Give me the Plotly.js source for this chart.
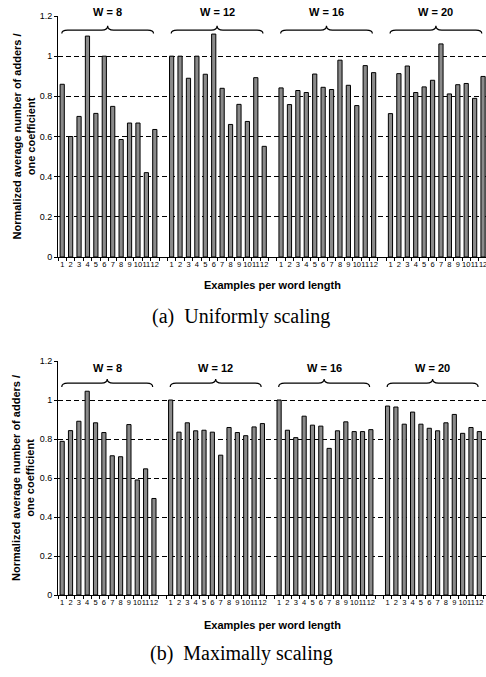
<!DOCTYPE html>
<html><head><meta charset="utf-8">
<script src="https://cdn.plot.ly/plotly-3.0.1.min.js"></script>
<style>html,body{margin:0;padding:0;background:#fff}#chart{width:486px;height:677px}</style>
</head><body><div id="chart"></div>
<script>
// ---------- data ----------
const wordLengths = [8, 12, 16, 20];
const exampleLabels = ['1','2','3','4','5','6','7','8','9','10','11','12'];
const uniformW8  = [0.86, 0.60, 0.70, 1.10, 0.715, 1.00, 0.75, 0.585, 0.667, 0.667, 0.42, 0.635];
const uniformW12 = [1.00, 1.00, 0.89, 1.00, 0.91, 1.11, 0.84, 0.66, 0.76, 0.675, 0.893, 0.551];
const uniformW16 = [0.842, 0.759, 0.829, 0.819, 0.911, 0.845, 0.834, 0.98, 0.855, 0.754, 0.953, 0.918];
const uniformW20 = [0.714, 0.913, 0.951, 0.819, 0.847, 0.88, 1.061, 0.812, 0.858, 0.864, 0.79, 0.899];
const maximalW8  = [0.788, 0.843, 0.891, 1.045, 0.883, 0.833, 0.714, 0.709, 0.874, 0.59, 0.647, 0.495];
const maximalW12 = [1.00, 0.835, 0.883, 0.842, 0.845, 0.835, 0.717, 0.859, 0.833, 0.817, 0.862, 0.879];
const maximalW16 = [1.00, 0.845, 0.807, 0.917, 0.871, 0.866, 0.752, 0.842, 0.888, 0.838, 0.838, 0.848];
const maximalW20 = [0.969, 0.964, 0.876, 0.938, 0.876, 0.855, 0.842, 0.883, 0.926, 0.829, 0.859, 0.838];
const yTickVals = [0, 0.2, 0.4, 0.6, 0.8, 1, 1.2];
const yTitle = 'Normalized average number of adders /<br>one coefficient';
const xTitle = 'Examples per word length';
const captions = ['(a)  Uniformly scaling', '(b)  Maximally scaling'];

// ---------- build categories ----------
function buildSeries(groups) {
  const x = [], y = [];
  groups.forEach((vals, g) => {
    vals.forEach((v, i) => { x.push('W' + wordLengths[g] + '\u00b7' + exampleLabels[i]); y.push(v); });
    if (g < groups.length - 1) { x.push('gap' + g); y.push(null); }
  });
  return {x, y};
}
const uniSeries = buildSeries([uniformW8, uniformW12, uniformW16, uniformW20]);
const maxSeries = buildSeries([maximalW8, maximalW12, maximalW16, maximalW20]);
const tickText = uniSeries.x.map(c => c.startsWith('gap') ? '' : c.split('\u00b7')[1]);

const FONT = 'Liberation Sans, Arial, sans-serif';
const barStyle = {color: '#8a8a8a', line: {color: '#000', width: 1}};

const traces = [
  {type: 'bar', x: uniSeries.x, y: uniSeries.y, xaxis: 'x', yaxis: 'y', marker: barStyle, showlegend: false},
  {type: 'bar', x: maxSeries.x, y: maxSeries.y, xaxis: 'x2', yaxis: 'y2', marker: barStyle, showlegend: false}
];

function xAxis(domain, range, anchor) {
  return {
    type: 'category', domain: domain, range: range, anchor: anchor,
    categoryorder: 'array', categoryarray: uniSeries.x,
    tickmode: 'array', tickvals: uniSeries.x, ticktext: tickText, tickson: 'boundaries',
    ticks: 'outside', ticklen: 3, tickcolor: '#000', tickwidth: 1,
    showline: true, linecolor: '#000', linewidth: 1, showgrid: false,
    tickfont: {family: FONT, size: 7.5, color: '#000'}, tickangle: 0, fixedrange: true
  };
}
function yAxis(domain, anchor) {
  return {
    domain: domain, range: [0, 1.2], anchor: anchor,
    tickmode: 'array', tickvals: yTickVals, ticktext: yTickVals.map(v => String(v)),
    ticks: 'outside', ticklen: 3, tickcolor: '#000',
    showline: true, linecolor: '#000', linewidth: 1,
    showgrid: true, gridcolor: '#000', griddash: '5px,3px', gridwidth: 1, zeroline: false,
    tickfont: {family: FONT, size: 9, color: '#000'}, fixedrange: true
  };
}

const H = 677, W = 486;
const topDom = [1 - 257 / H, 1 - 16 / H];
const botDom = [1 - 595 / H, 1 - 361 / H];
const xDom = [58 / W, 1];

// braces and group labels
const shapes = [], annotations = [];
function brace(x0, x1, xm, yEnd, yMid, yTip, xref, yref) {
  const d = 0.7;
  return {
    type: 'path', xref: xref, yref: yref, line: {color: '#000', width: 1.2},
    path: `M ${x0},${yEnd} Q ${x0},${yMid} ${x0 + d},${yMid} L ${xm - d},${yMid} Q ${xm},${yMid} ${xm},${yTip} ` +
          `Q ${xm},${yMid} ${xm + d},${yMid} L ${x1 - d},${yMid} Q ${x1},${yMid} ${x1},${yEnd}`
  };
}
const braceY = [{end: 1.113, mid: 1.130, tip: 1.152, lab: 1.219}, {end: 1.067, mid: 1.087, tip: 1.108, lab: 1.164}];
[['x', 'y'], ['x2', 'y2']].forEach(([xr, yr], k) => {
  wordLengths.forEach((w, g) => {
    const s = g * 13, e = g * 13 + 11, m = s + 5.4;
    shapes.push(brace(s - 0.05, e - 0.15, m, braceY[k].end, braceY[k].mid, braceY[k].tip, xr, yr));
    annotations.push({xref: xr, yref: yr + ' domain', x: m, y: braceY[k].lab / 1.2, text: '<b>W = ' + w + '</b>',
      showarrow: false, xanchor: 'center', yanchor: 'middle', font: {family: FONT, size: 11, color: '#000'}});
  });
});
// axis titles & captions
const yTitleY = [1 - 136.5 / H, 1 - 478 / H];
const xTitleY = [1 - 285 / H, 1 - 625 / H];
const capY = [1 - 316.7 / H, 1 - 653 / H];
[0, 1].forEach(k => {
  annotations.push({xref: 'paper', yref: 'paper', x: 23 / W, y: yTitleY[k], text: '<b>' + yTitle + '</b>',
    textangle: -90, showarrow: false, xanchor: 'center', yanchor: 'middle', align: 'center',
    font: {family: FONT, size: 11, color: '#000'}});
  annotations.push({xref: 'paper', yref: 'paper', x: 272 / W, y: xTitleY[k], text: '<b>' + xTitle + '</b>',
    showarrow: false, xanchor: 'center', yanchor: 'middle', font: {family: FONT, size: 11, color: '#000'}});
  annotations.push({xref: 'paper', yref: 'paper', x: 241 / W, y: capY[k], text: captions[k],
    showarrow: false, xanchor: 'center', yanchor: 'middle',
    font: {family: 'Liberation Serif, Times New Roman, serif', size: 20, color: '#000'}});
});

const layout = {
  width: W, height: H, margin: {l: 0, r: 0, t: 0, b: 0},
  paper_bgcolor: '#fff', plot_bgcolor: '#fff', bargap: 0.5, showlegend: false,
  xaxis: xAxis(xDom, [-0.5, 50.35], 'y'),
  yaxis: yAxis(topDom, 'x'),
  xaxis2: xAxis(xDom, [-0.5, 50.8], 'y2'),
  yaxis2: yAxis(botDom, 'x2'),
  shapes: shapes, annotations: annotations
};
Plotly.newPlot('chart', traces, layout, {staticPlot: true, displayModeBar: false});
</script></body></html>
